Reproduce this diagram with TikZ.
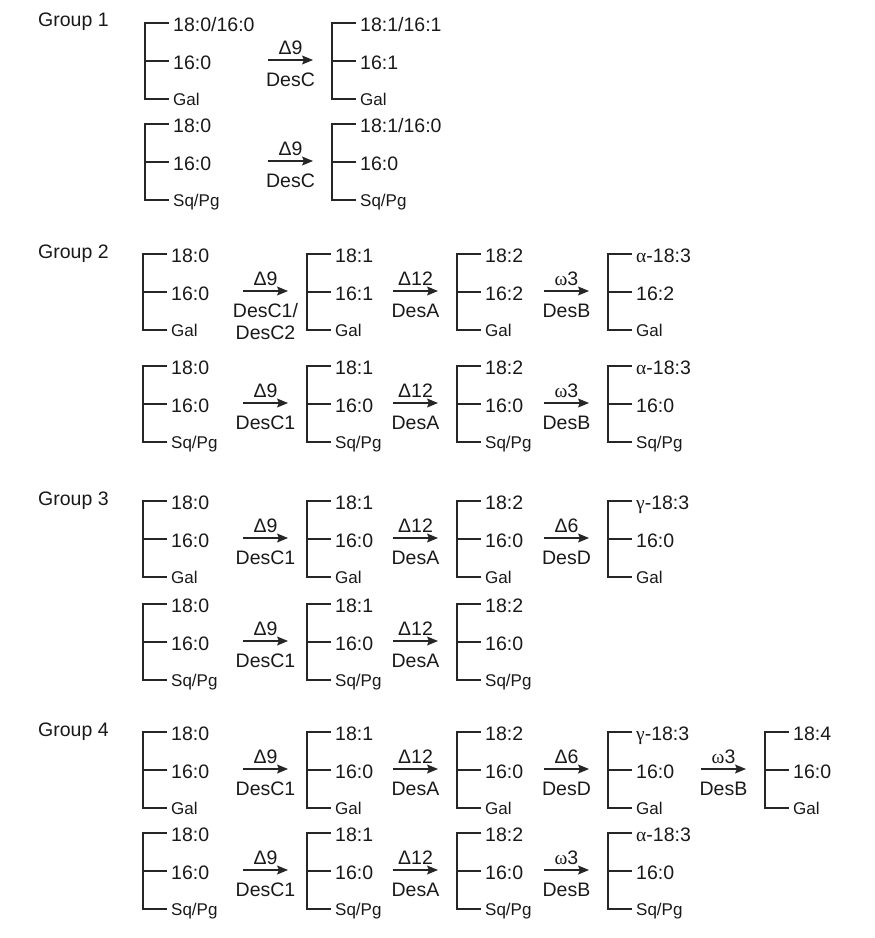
\documentclass[tikz,border=0pt]{standalone}
\usepackage{fontspec}
\setmainfont{Liberation Sans}
\newfontfamily\grk{Liberation Serif}
\usetikzlibrary{arrows.meta}

\tikzset{
 bond/.style={line width=1.2pt,black!85},
 chain/.style={anchor=base west,inner sep=0pt,text=black!90,font=\fontsize{19.5}{22}\selectfont},
 head/.style={anchor=base west,inner sep=0pt,text=black!90,font=\fontsize{17}{20}\selectfont},
 enz/.style={anchor=base,inner sep=0pt,text=black!90,font=\fontsize{19.5}{22}\selectfont},
 conv/.style={line width=1.1pt,black!85,-{Stealth[length=11pt,width=9pt,inset=2pt]}}
}

% bracket: name, x, y of top tick, three chains
\newcommand{\lipid}[6]{%
 \draw[bond] (#2+24,#3) -- (#2,#3) -- (#2,#3+76) -- (#2+24,#3+76);
 \draw[bond] (#2,#3+38) -- (#2+24,#3+38);
 \node[chain] (#1a) at (#2+28,#3+8) {#4};
 \node[chain] (#1b) at (#2+28,#3+46) {#5};
 \node[head] (#1c) at (#2+28,#3+82) {#6};
 \coordinate (#1in) at (#2-19,#3+37);
}
% arrow into a bracket: target, above, below
\newcommand{\conv}[3]{%
 \draw[conv] ([xshift=-45pt]#1in) -- (#1in)
  node[enz,midway,yshift=6pt] (#1up) {#2}
  node[enz,midway,yshift=-26pt] (#1dn) {#3};
}

\begin{document}
\begin{tikzpicture}[x=1pt,y=-1pt]
 \useasboundingbox (0,0) rectangle (875,938);

 % group 1
 \node[chain] (grp1) at (38,26) {Group 1};
 \lipid{ga1}{145}{23}{18:0/16:0}{16:0}{Gal}
 \lipid{ga2}{332}{23}{18:1/16:1}{16:1}{Gal}
 \conv{ga2}{Δ9}{DesC}
 \lipid{gb1}{145}{124}{18:0}{16:0}{Sq/Pg}
 \lipid{gb2}{332}{124}{18:1/16:0}{16:0}{Sq/Pg}
 \conv{gb2}{Δ9}{DesC}

 % group 2
 \node[chain] (grp2) at (38,258) {Group 2};
 \lipid{ha1}{143}{254}{18:0}{16:0}{Gal}
 \lipid{ha2}{307}{254}{18:1}{16:1}{Gal}
 \lipid{ha3}{457}{254}{18:2}{16:2}{Gal}
 \lipid{ha4}{608}{254}{{\grk α}-18:3}{16:2}{Gal}
 \conv{ha2}{Δ9}{DesC1/}
 \node[enz] (ha2dn2) at ([xshift=-22.5pt,yshift=-48pt]ha2in) {DesC2};
 \conv{ha3}{Δ12}{DesA}
 \conv{ha4}{{\grk ω}3}{DesB}
 \lipid{hb1}{143}{366}{18:0}{16:0}{Sq/Pg}
 \lipid{hb2}{307}{366}{18:1}{16:0}{Sq/Pg}
 \lipid{hb3}{457}{366}{18:2}{16:0}{Sq/Pg}
 \lipid{hb4}{608}{366}{{\grk α}-18:3}{16:0}{Sq/Pg}
 \conv{hb2}{Δ9}{DesC1}
 \conv{hb3}{Δ12}{DesA}
 \conv{hb4}{{\grk ω}3}{DesB}

 % group 3
 \node[chain] (grp3) at (38,505) {Group 3};
 \lipid{ia1}{143}{501}{18:0}{16:0}{Gal}
 \lipid{ia2}{307}{501}{18:1}{16:0}{Gal}
 \lipid{ia3}{457}{501}{18:2}{16:0}{Gal}
 \lipid{ia4}{608}{501}{{\grk γ}-18:3}{16:0}{Gal}
 \conv{ia2}{Δ9}{DesC1}
 \conv{ia3}{Δ12}{DesA}
 \conv{ia4}{Δ6}{DesD}
 \lipid{ib1}{143}{604}{18:0}{16:0}{Sq/Pg}
 \lipid{ib2}{307}{604}{18:1}{16:0}{Sq/Pg}
 \lipid{ib3}{457}{604}{18:2}{16:0}{Sq/Pg}
 \conv{ib2}{Δ9}{DesC1}
 \conv{ib3}{Δ12}{DesA}

 % group 4
 \node[chain] (grp4) at (38,736) {Group 4};
 \lipid{ja1}{143}{732}{18:0}{16:0}{Gal}
 \lipid{ja2}{307}{732}{18:1}{16:0}{Gal}
 \lipid{ja3}{457}{732}{18:2}{16:0}{Gal}
 \lipid{ja4}{608}{732}{{\grk γ}-18:3}{16:0}{Gal}
 \lipid{ja5}{765}{732}{18:4}{16:0}{Gal}
 \conv{ja2}{Δ9}{DesC1}
 \conv{ja3}{Δ12}{DesA}
 \conv{ja4}{Δ6}{DesD}
 \conv{ja5}{{\grk ω}3}{DesB}
 \lipid{jb1}{143}{833}{18:0}{16:0}{Sq/Pg}
 \lipid{jb2}{307}{833}{18:1}{16:0}{Sq/Pg}
 \lipid{jb3}{457}{833}{18:2}{16:0}{Sq/Pg}
 \lipid{jb4}{608}{833}{{\grk α}-18:3}{16:0}{Sq/Pg}
 \conv{jb2}{Δ9}{DesC1}
 \conv{jb3}{Δ12}{DesA}
 \conv{jb4}{{\grk ω}3}{DesB}
\end{tikzpicture}
\end{document}
